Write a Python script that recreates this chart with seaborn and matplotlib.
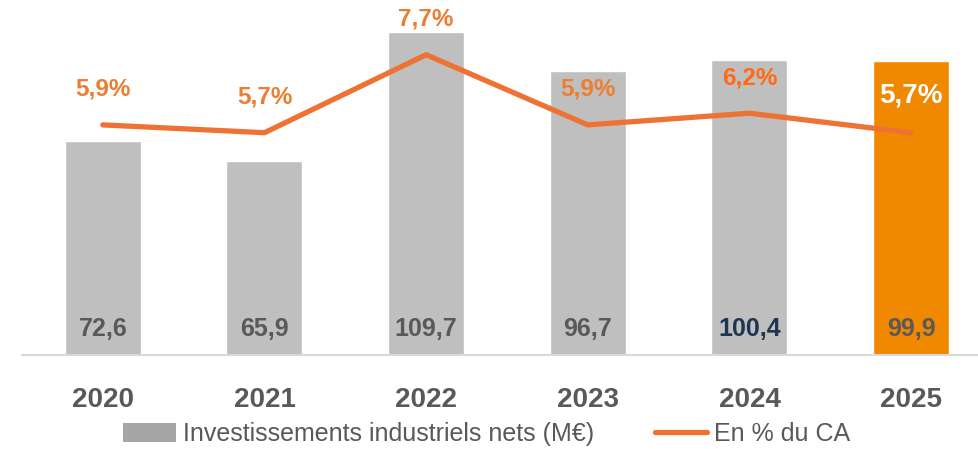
import seaborn as sns
import matplotlib.pyplot as plt
from matplotlib.patches import Patch
from matplotlib.lines import Line2D
import numpy as np

sns.set_theme(style="white")
plt.rcParams["font.family"] = ["Liberation Sans", "DejaVu Sans"]

# data
years = ["2020", "2021", "2022", "2023", "2024", "2025"]
invest = [72.6, 65.9, 109.7, 96.7, 100.4, 99.9]
invest_labels = ["72,6", "65,9", "109,7", "96,7", "100,4", "99,9"]
pct = [5.9, 5.7, 7.7, 5.9, 6.2, 5.7]
pct_labels = ["5,9%", "5,7%", "7,7%", "5,9%", "6,2%", "5,7%"]

bar_colors = ["#BFBFBF"] * 5 + ["#F08800"]
label_colors = ["#595959"] * 4 + ["#1F3553", "#595959"]
pct_colors = ["#ED7D31", "#ED7D31", "#ED7D31", "#ED7D31", "#FF6A13", "white"]
line_color = "#ED7234"

fig = plt.figure(figsize=(9.79, 4.49), dpi=100)
W, H = 979, 449
ax = fig.add_axes([22 / W, (H - 355) / H, (W - 22) / W, 353 / H])

sns.barplot(x=years, y=invest, hue=years, palette=bar_colors, legend=False,
            width=0.47, saturation=1, ax=ax)
ax.set_xlim(-0.5, 5.42)
ax.set_ylim(0, 120)

for i, (v, lab) in enumerate(zip(invest, invest_labels)):
    ax.annotate(lab, (i, 0), xytext=(0, 18.5), textcoords="offset points",
                ha="center", va="center", fontsize=18, fontweight="bold",
                color=label_colors[i])

# secondary axis for the percentage line
ax2 = ax.twinx()
sns.lineplot(x=np.arange(len(years)), y=pct, color=line_color, linewidth=3.8,
             solid_capstyle="round", ax=ax2)
ax2.set_ylim(0, 353 / 39.0)

for i, (p, lab) in enumerate(zip(pct, pct_labels)):
    big = i == len(years) - 1
    ax2.annotate(lab, (i, p), xytext=(0, 26.5 if big else 25.5),
                 textcoords="offset points", ha="center", va="center",
                 fontsize=20 if big else 17.5, fontweight="bold",
                 color=pct_colors[i])

for a in (ax, ax2):
    for s in ["top", "right", "left"]:
        a.spines[s].set_visible(False)
    a.set_yticks([])
    a.set_ylabel("")
ax2.spines["bottom"].set_visible(False)
ax.spines["bottom"].set_color("#D9D9D9")
ax.spines["bottom"].set_linewidth(1.5)

ax.tick_params(axis="x", length=0, pad=23)
for t in ax.get_xticklabels():
    t.set_fontsize(20)
    t.set_fontweight("bold")
    t.set_color("#595959")
ax.set_xlabel("")

handles = [
    Patch(facecolor="#A6A6A6", edgecolor="none",
          label="Investissements industriels nets (M€)"),
    Line2D([0], [0], color=line_color, linewidth=3.8, solid_capstyle="round",
           label="En % du CA"),
]
leg = fig.legend(handles=handles, loc="center", bbox_to_anchor=(487 / W, 1 - 434 / H),
                 ncol=2, frameon=False, handlelength=2.1, handleheight=0.8,
                 handletextpad=0.3, columnspacing=2.4,
                 prop={"family": ["Liberation Sans"], "size": 18})
for t in leg.get_texts():
    t.set_color("#595959")

fig.savefig("out.png", dpi=100)
